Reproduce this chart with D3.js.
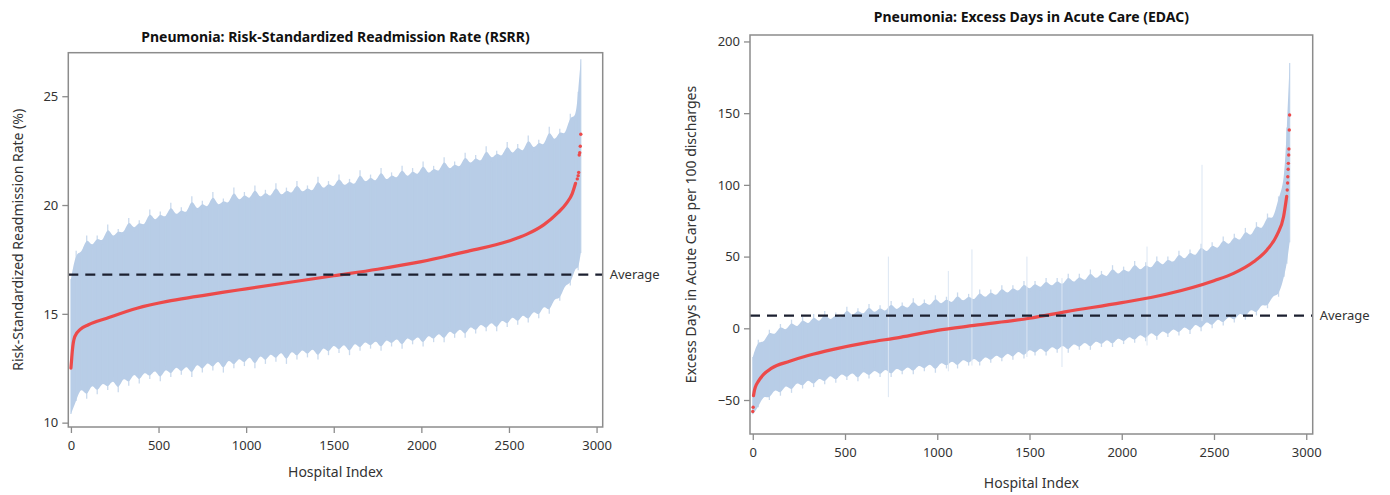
<!DOCTYPE html>
<html>
<head>
<meta charset="utf-8">
<script src="https://cdn.jsdelivr.net/npm/d3@7"></script>
<style>
  body { margin: 0; background: #fff; }
  svg { display: block; }
  text { font-family: "Noto Sans", "Open Sans", sans-serif; }
</style>
</head>
<body>
<div id="chart"></div>
<script>
// ---------------------------------------------------------
// DATA
// ---------------------------------------------------------
// hospital index of each interval sample (every 30th hospital, plus the tail)
const bandIdx = d3.range(0, 2881, 30).concat([2895, 2910]);

// RSRR interval, lower / upper (%)
const rsrrLo = [
  10.4, 11.0, 11.7, 11.1, 11.9, 11.3, 11.95, 11.5, 12.1, 11.4,
  12.2, 11.7, 12.4, 11.8, 12.45, 12.0, 12.55, 11.9, 12.6, 12.1,
  12.7, 12.2, 12.75, 12.1, 12.85, 12.3, 12.9, 12.4, 13.0, 12.3,
  13.05, 12.5, 13.1, 12.6, 13.2, 12.5, 13.25, 12.7, 13.3, 12.8,
  13.4, 12.7, 13.45, 12.9, 13.5, 13.0, 13.55, 12.9, 13.6, 13.1,
  13.7, 13.2, 13.75, 13.1, 13.8, 13.3, 13.85, 13.4, 13.9, 13.3,
  13.95, 13.5, 14.0, 13.4, 14.05, 13.6, 14.1, 13.5, 14.15, 13.7,
  14.25, 13.7, 14.35, 13.9, 14.45, 13.9, 14.55, 14.1, 14.65, 14.2,
  14.75, 14.2, 14.85, 14.4, 15.0, 14.5, 15.1, 14.6, 15.25, 14.8,
  15.5, 15.0, 15.8, 15.6, 16.4, 16.3, 17.2, 17.0, 17.8
];
const rsrrHi = [
  16.6, 17.9, 17.7, 18.6, 18.0, 18.6, 18.2, 19.1, 18.4, 18.9,
  18.6, 19.4, 18.8, 19.3, 18.95, 19.8, 19.15, 19.7, 19.3, 20.1,
  19.4, 19.9, 19.5, 20.4, 19.65, 20.2, 19.75, 20.6, 19.85, 20.3,
  19.95, 20.8, 20.05, 20.6, 20.15, 20.9, 20.2, 20.7, 20.25, 21.0,
  20.3, 20.8, 20.4, 21.1, 20.45, 20.9, 20.5, 21.3, 20.6, 21.1,
  20.7, 21.4, 20.75, 21.2, 20.8, 21.6, 20.9, 21.4, 20.95, 21.7,
  21.0, 21.5, 21.1, 21.8, 21.15, 21.7, 21.25, 22.0, 21.3, 21.8,
  21.4, 22.2, 21.5, 22.0, 21.6, 22.4, 21.75, 22.3, 21.85, 22.7,
  22.0, 22.5, 22.1, 22.9, 22.2, 22.8, 22.3, 23.2, 22.45, 23.0,
  22.6, 23.6, 22.8, 23.5, 23.1, 24.2, 23.9, 25.2, 26.7
];
// RSRR point estimates (sorted)
const rsrrIdx = [0, 3, 8, 22, 55, 100, 205, 377, 549, 720, 873, 1000, 1250, 1500,
                 1750, 2000, 2250, 2500, 2600, 2700, 2780, 2830, 2860, 2880];
const rsrrEst = [12.5, 12.8, 13.3, 13.95, 14.3, 14.5, 14.8, 15.26, 15.57, 15.8, 16.0, 16.15, 16.45, 16.75,
                 17.05, 17.4, 17.85, 18.35, 18.65, 19.1, 19.65, 20.1, 20.5, 21.0];
const rsrrTailIdx = [2890, 2895, 2898, 2901, 2904, 2907, 2910];
const rsrrTailEst = [21.2, 21.35, 21.5, 22.3, 22.4, 22.7, 23.25];
const rsrrAvg = 16.8;

// EDAC interval, lower / upper (days per 100 discharges)
const edacLo = [
  -60, -55, -46, -50, -41, -47, -38, -45, -36, -42,
  -34, -41, -33, -39, -31, -38, -30, -36, -29, -37,
  -28, -35, -27.5, -34, -26.5, -34, -26, -32, -25, -32,
  -24, -30, -23, -31, -22, -28, -21, -28, -20, -26,
  -19, -26, -18, -24, -17, -23, -15.5, -22, -14, -21,
  -13, -19, -12, -19, -11, -17, -10, -17, -9, -15,
  -8, -15, -7, -13, -6, -13, -5, -11, -4, -10,
  -2.5, -9, -1, -8, 0, -6, 1.5, -5, 3, -4,
  5, -2, 6.5, 0, 8.5, 2, 10, 4, 12.5, 6,
  15, 9, 18, 14, 24, 22, 36, 45, 60
];
const edacHi = [
  -20, -8, -11, -1, -6, 3, -3, 6, -1, 8,
  1, 10, 2.5, 12, 4, 11, 5.5, 15, 7, 14,
  8, 17, 9, 16, 10, 19, 11, 18, 12, 21,
  13, 20, 14, 23, 15, 22, 16, 25, 17, 24,
  18, 27, 19.5, 27, 21, 30, 22.5, 30, 24, 33,
  25.5, 33, 26.5, 35, 27.5, 35, 28.5, 38, 30, 38,
  31, 41, 32.5, 40, 34, 44, 35.5, 43, 37, 47,
  38.5, 46, 40, 50, 42, 50, 44, 54, 46, 55,
  48.5, 59, 51, 60, 53.5, 64, 56, 66, 59, 70,
  62, 74, 67, 80, 74, 92, 100, 140, 185
];
// single wide intervals that stick out of the EDAC band
const edacSpikeIdx = [735, 1060, 1188, 1486, 1676, 2137, 2435];
const edacSpikeLo  = [-48, -30, -26, -20, -27, -12, 5];
const edacSpikeHi  = [50, 40, 55, 50, 35, 57, 114];
// EDAC point estimates (sorted)
const edacHeadIdx = [0, 2];
const edacHeadEst = [-58, -55];
const edacIdx = [4, 8, 14, 30, 60, 100, 200, 300, 436, 618, 799, 1000, 1200, 1500,
                 1700, 2000, 2245, 2500, 2606, 2715, 2787, 2841, 2877, 2894];
const edacEst = [-47, -44, -41, -37, -32, -28, -23, -19, -14.7, -10, -6.3, -1.5, 2, 7,
                 11.6, 17.9, 23.9, 33.2, 38.3, 46.4, 54.6, 65, 77.8, 92];
const edacTailIdx = [2897, 2899, 2900, 2902, 2903, 2905, 2906, 2908, 2910];
const edacTailEst = [96.4, 101.3, 105.7, 110.9, 115, 120.8, 125, 138.3, 148.7];
const edacAvg = 8.8;

const xTicks = [0, 500, 1000, 1500, 2000, 2500, 3000];
const rsrrTicks = [10, 15, 20, 25];
const edacTicks = [-50, 0, 50, 100, 150, 200];

// ---------------------------------------------------------
// SETUP
// ---------------------------------------------------------
const W = 1390, H = 495;
const BAND = "#b8cde7", RED = "#ec4a4a", FRAME = "#8c8c8c", INK = "#333";

const svg = d3.select("#chart").append("svg")
    .attr("width", W)
    .attr("height", H);

function zip(idx, a, b) {
  return idx.map((d, i) => ({ i: d, a: a[i], b: b ? b[i] : null }));
}

function panel(cfg) {
  const g = svg.append("g");
  const x = d3.scaleLinear().domain([-15, 3035]).range([cfg.left, cfg.right]);
  const y = d3.scaleLinear().domain(cfg.yDomain).range([cfg.bottom, cfg.top]);
  const band = zip(bandIdx, cfg.lo, cfg.hi);

  // interval band: smoothed core plus one hair per sampled interval
  g.append("path")
    .datum(band)
    .attr("fill", BAND)
    .attr("d", d3.area().x(d => x(d.i)).y0(d => y(d.a)).y1(d => y(d.b)).curve(d3.curveBasis));

  g.selectAll("line.hair")
    .data(band)
    .enter().append("line")
    .attr("class", "hair")
    .attr("x1", d => x(d.i)).attr("x2", d => x(d.i))
    .attr("y1", d => y(d.a)).attr("y2", d => y(d.b))
    .attr("stroke", BAND)
    .attr("stroke-opacity", 0.75)
    .attr("stroke-width", 1.3);

  if (cfg.spikes) {
    g.selectAll("line.spike")
      .data(zip(cfg.spikes[0], cfg.spikes[1], cfg.spikes[2]))
      .enter().append("line")
      .attr("class", "spike")
      .attr("x1", d => x(d.i)).attr("x2", d => x(d.i))
      .attr("y1", d => y(d.a)).attr("y2", d => y(d.b))
      .attr("stroke", "#dbe6f3")
      .attr("stroke-width", 1);
  }

  // point estimates: dense run as a thick line, sparse ends as dots
  g.append("path")
    .datum(zip(cfg.estIdx, cfg.est))
    .attr("fill", "none")
    .attr("stroke", RED)
    .attr("stroke-width", 3.2)
    .attr("stroke-linecap", "round")
    .attr("d", d3.line().x(d => x(d.i)).y(d => y(d.a)).curve(d3.curveMonotoneX));

  g.selectAll("circle.dot")
    .data(zip(cfg.dotIdx, cfg.dotEst))
    .enter().append("circle")
    .attr("class", "dot")
    .attr("cx", d => x(d.i))
    .attr("cy", d => y(d.a))
    .attr("r", 1.7)
    .attr("fill", RED);

  // average
  g.append("line")
    .attr("x1", cfg.left).attr("x2", cfg.right)
    .attr("y1", y(cfg.avg)).attr("y2", y(cfg.avg))
    .attr("stroke", "#1c2030")
    .attr("stroke-width", 2.2)
    .attr("stroke-dasharray", "10,7");

  g.append("text")
    .attr("x", cfg.right + 7)
    .attr("y", y(cfg.avg))
    .attr("dy", "0.35em")
    .attr("font-size", 13)
    .attr("fill", INK)
    .text("Average");

  // axes
  const ax = g.append("g")
    .attr("transform", `translate(0,${cfg.bottom})`)
    .call(d3.axisBottom(x).tickValues(xTicks).tickFormat(d3.format("d"))
      .tickSize(6).tickPadding(8).tickSizeOuter(0));
  const ay = g.append("g")
    .attr("transform", `translate(${cfg.left},0)`)
    .call(d3.axisLeft(y).tickValues(cfg.yTicks).tickFormat(d3.format("d"))
      .tickSize(6).tickPadding(4).tickSizeOuter(0));
  [ax, ay].forEach(a => {
    a.select(".domain").remove();
    a.selectAll(".tick line").attr("stroke", FRAME).attr("stroke-width", 1.3);
    a.selectAll(".tick text")
      .attr("fill", INK)
      .attr("font-size", 13)
      .style("font-family", "\"Noto Sans\", sans-serif");
  });

  // frame
  g.append("rect")
    .attr("x", cfg.left).attr("y", cfg.top)
    .attr("width", cfg.right - cfg.left)
    .attr("height", cfg.bottom - cfg.top)
    .attr("fill", "none")
    .attr("stroke", FRAME)
    .attr("stroke-width", 1.5);

  // titles
  const cx = (cfg.left + cfg.right) / 2;
  g.append("text")
    .attr("x", cx).attr("y", cfg.titleY)
    .attr("text-anchor", "middle")
    .attr("font-size", 14)
    .attr("font-weight", "bold")
    .attr("fill", "#111")
    .text(cfg.title);

  g.append("text")
    .attr("x", cx).attr("y", cfg.xLabelY)
    .attr("text-anchor", "middle")
    .attr("font-size", 14)
    .attr("fill", INK)
    .text("Hospital Index");

  g.append("text")
    .attr("transform", `translate(${cfg.yLabelX},${(cfg.top + cfg.bottom) / 2}) rotate(-90)`)
    .attr("text-anchor", "middle")
    .attr("dy", "0.35em")
    .attr("font-size", 14)
    .attr("fill", INK)
    .text(cfg.yLabel);
}

panel({
  left: 68.3, right: 602.7, top: 52.7, bottom: 427,
  yDomain: [9.8, 27.0], yTicks: rsrrTicks,
  lo: rsrrLo, hi: rsrrHi,
  estIdx: rsrrIdx, est: rsrrEst,
  dotIdx: rsrrTailIdx, dotEst: rsrrTailEst,
  avg: rsrrAvg,
  title: "Pneumonia: Risk-Standardized Readmission Rate (RSRR)", titleY: 42,
  xLabelY: 477, yLabelX: 18,
  yLabel: "Risk-Standardized Readmission Rate (%)"
});

panel({
  left: 750, right: 1312.7, top: 35, bottom: 434,
  yDomain: [-73.7, 204.5], yTicks: edacTicks,
  lo: edacLo, hi: edacHi,
  spikes: [edacSpikeIdx, edacSpikeLo, edacSpikeHi],
  estIdx: edacIdx, est: edacEst,
  dotIdx: edacHeadIdx.concat(edacTailIdx), dotEst: edacHeadEst.concat(edacTailEst),
  avg: edacAvg,
  title: "Pneumonia: Excess Days in Acute Care (EDAC)", titleY: 22,
  xLabelY: 488, yLabelX: 691,
  yLabel: "Excess Days in Acute Care per 100 discharges"
});
</script>
</body>
</html>
